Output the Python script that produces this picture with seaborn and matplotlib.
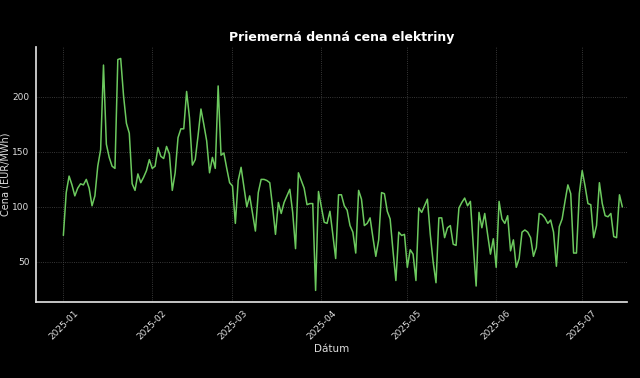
import matplotlib
matplotlib.use('Agg')
import matplotlib.pyplot as plt
import matplotlib.dates as mdates
import pandas as pd
import seaborn as sns

# denné priemerné ceny, 1.1.2025 - 15.7.2025
start_date = '2025-01-01'
prices = [
    74, 113, 128, 120, 110, 117, 121, 120, 125, 117,
    101, 110, 137, 152, 229, 157, 145, 137, 135, 234,
    235, 201, 176, 167, 121, 115, 130, 122, 127, 133,
    143, 135, 137, 154, 146, 144, 155, 148, 115, 131,
    163, 171, 171, 205, 181, 138, 143, 165, 189, 175,
    160, 131, 145, 135, 210, 147, 149, 135, 122, 119,
    85, 124, 136, 118, 100, 110, 94, 78, 113, 125,
    125, 124, 122, 100, 75, 104, 94, 104, 110, 116,
    95, 62, 131, 124, 117, 102, 103, 103, 24, 114,
    100, 86, 85, 96, 75, 53, 111, 111, 101, 97,
    83, 77, 58, 115, 107, 83, 85, 90, 72, 55,
    70, 113, 112, 96, 89, 60, 33, 77, 74, 75,
    45, 61, 57, 33, 99, 95, 101, 107, 75, 50,
    31, 90, 90, 72, 81, 83, 66, 65, 99, 104,
    108, 101, 105, 65, 28, 95, 81, 94, 75, 57,
    71, 45, 105, 89, 85, 92, 60, 70, 45, 53,
    77, 79, 77, 72, 55, 63, 94, 93, 90, 85,
    88, 77, 46, 82, 89, 105, 120, 112, 58, 58,
    112, 133, 119, 103, 102, 72, 83, 122, 103, 92,
    91, 94, 73, 72, 111, 100,
]

df = pd.DataFrame({
    'Dátum': pd.date_range(start_date, periods=len(prices), freq='D'),
    'Cena': prices,
})

sns.set_theme(style='dark')
plt.rcParams.update({
    'figure.facecolor': 'black',
    'axes.facecolor': 'black',
    'axes.edgecolor': '#dddddd',
    'axes.labelcolor': '#dddddd',
    'text.color': 'white',
    'xtick.color': '#dddddd',
    'ytick.color': '#dddddd',
    'grid.color': '#555555',
})
plt.rcParams['font.family'] = ['DejaVu Sans']

fig, ax = plt.subplots(figsize=(6.4, 3.78), dpi=100)
sns.lineplot(data=df, x='Dátum', y='Cena', color='#6cc95e', linewidth=1.1, ax=ax)

ax.set_title('Priemerná denná cena elektriny', fontsize=9, fontweight='bold',
             color='white', pad=4, x=0.518)
ax.set_xlabel('Dátum', fontsize=7.5, labelpad=2)
ax.set_ylabel('Cena (EUR/MWh)', fontsize=7, labelpad=1.5)
ax.grid(True, linestyle=':', linewidth=0.6, color='#4a4a4a')
ax.xaxis.set_major_locator(mdates.MonthLocator())
ax.xaxis.set_major_formatter(mdates.DateFormatter('%Y-%m'))
ax.tick_params(axis='both', labelsize=6.5, length=3, pad=1.5, colors='#dddddd')
plt.setp(ax.get_xticklabels(), rotation=45)
for s in ['top', 'right']:
    ax.spines[s].set_visible(False)

d0 = df['Dátum'].iloc[0]
d1 = df['Dátum'].iloc[-1]
ax.set_xlim(d0 - pd.Timedelta(days=9.6), d1 + pd.Timedelta(days=1.7))

plt.subplots_adjust(left=0.056, right=0.98, top=0.876, bottom=0.201)
plt.savefig('out.png', dpi=100, facecolor='black')
